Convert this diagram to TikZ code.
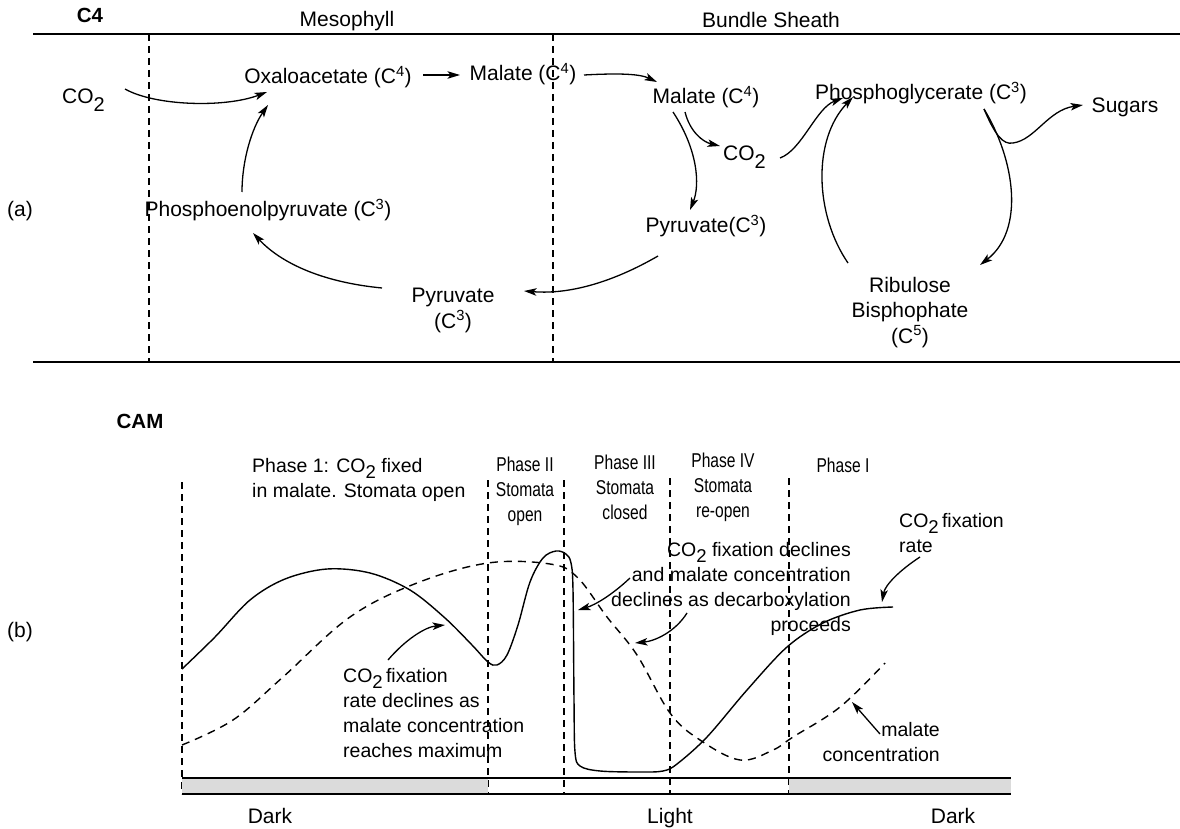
\documentclass[tikz,border=0pt]{standalone}
\usepackage{fontspec}
\setmainfont{Liberation Sans}
\newfontfamily\narrowfont[FakeStretch=0.78]{Liberation Sans}
\usetikzlibrary{arrows.meta}
\newcommand\lowtwo{\raisebox{-0.34em}{\scalebox{0.95}{2}}}
\begin{document}
\begin{tikzpicture}[x=1pt,y=-1pt,
  txa/.style={inner sep=0pt, anchor=base, font=\fontsize{21}{25.5}\selectfont},
  txb/.style={inner sep=0pt, anchor=base, font=\fontsize{19.5}{25}\selectfont},
  txn/.style={inner sep=0pt, anchor=base, align=center, font=\narrowfont\fontsize{20}{25}\selectfont},
  ttl/.style={inner sep=0pt, anchor=base, font=\bfseries\fontsize{20.5}{24}\selectfont},
  arr/.style={-{Stealth[length=12.5pt,width=7.5pt,inset=3pt]}, line width=1.3pt},
  frame/.style={line width=1.4pt},
  vdash/.style={line width=1.3pt, dash pattern=on 7pt off 5pt},
  curve/.style={line width=1.4pt},
  dcurve/.style={line width=1.4pt, dash pattern=on 8pt off 6pt}]
\useasboundingbox (0,0) rectangle (1180,829);
\fill[white] (0,0) rectangle (1180,829);

% ---------------- (a) C4 ----------------
\node[ttl] (c4) at (90,23) {C4};
\node[txa] (meso) at (347,27) {Mesophyll};
\node[txa] (bund) at (771,28) {Bundle Sheath};
\node[txa] (alab) at (20,217) {(a)};

\coordinate (tl) at (33,34); \coordinate (tr) at (1180,34);
\coordinate (bl) at (33,362); \coordinate (br) at (1180,362);
\draw[frame] (tl) -- (tr);
\draw[frame] (bl) -- (br);
\coordinate (d1t) at (149,34); \coordinate (d1b) at (149,362);
\coordinate (d2t) at (553,34); \coordinate (d2b) at (553,362);
\draw[vdash] (d1t) -- (d1b);
\draw[vdash] (d2t) -- (d2b);

\node[txa, anchor=base west] (co2a) at (62,104) {CO\lowtwo};
\node[txa] (oxa) at (328,84) {Oxaloacetate (C\textsuperscript{4})};
\node[txa] (malm) at (523,81) {Malate (C\textsuperscript{4})};
\node[txa] (malb) at (706,104) {Malate (C\textsuperscript{4})};
\node[txa, anchor=base west] (co2b) at (723,161) {CO\lowtwo};
\node[txa] (pyrb) at (706,233) {Pyruvate(C\textsuperscript{3})};
\node[txa, align=center] (pyrm) at (453,328) {Pyruvate\\(C\textsuperscript{3})};
\node[txa] (pep) at (268,217) {Phosphoenolpyruvate (C\textsuperscript{3})};
\node[txa] (pg) at (921,100) {Phosphoglycerate (C\textsuperscript{3})};
\node[txa] (sug) at (1125,113) {Sugars};
\node[txa, align=center] (rub) at (910,343) {Ribulose\\Bisphophate\\(C\textsuperscript{5})};

% arrow end points
\coordinate (e1s) at (125,89);   \coordinate (e1e) at (267,92);
\coordinate (e2s) at (423,75);   \coordinate (e2e) at (460,75);
\coordinate (e3s) at (584,75);   \coordinate (e3e) at (657,82);
\coordinate (e4s) at (685,112);  \coordinate (e4e) at (720,146);
\coordinate (e5s) at (673,112);  \coordinate (e5e) at (690,210);
\coordinate (e6s) at (658,256);  \coordinate (e6e) at (524,291);
\coordinate (e7s) at (382,288);  \coordinate (e7e) at (253,233);
\coordinate (e8s) at (242,192);  \coordinate (e8e) at (268,105);
\coordinate (e9s) at (780,158);  \coordinate (e9e) at (843,98);
\coordinate (e10s) at (848,263); \coordinate (e10e) at (853,97);
\coordinate (e11s) at (984,109); \coordinate (e11m) at (1013,143); \coordinate (e11e) at (1083,105);
\coordinate (e12e) at (980,265);

\draw[arr] (e1s) .. controls (155,106) and (225,108) .. (e1e);
\draw[arr] (e2s) -- (e2e);
\draw[arr] (e3s) .. controls (620,73) and (640,74) .. (e3e);
\draw[arr] (e4s) .. controls (690,132) and (703,142) .. (e4e);
\draw[arr] (e5s) .. controls (698,150) and (700,185) .. (e5e);
\draw[arr] (e6s) .. controls (620,278) and (575,295) .. (e6e);
\draw[arr] (e7s) .. controls (320,282) and (280,262) .. (e7e);
\draw[arr] (e8s) .. controls (242,160) and (252,128) .. (e8e);
\draw[arr] (e9s) .. controls (802,150) and (816,108) .. (e9e);
\draw[arr] (e10s) .. controls (815,215) and (812,140) .. (e10e);
\draw[arr] (e11s) .. controls (995,135) and (1003,145) .. (e11m) .. controls (1035,140) and (1048,110) .. (e11e);
\draw[arr] (e11s) .. controls (1015,160) and (1025,230) .. (e12e);

% ---------------- (b) CAM ----------------
\node[ttl] (cam) at (140,428) {CAM};
\node[txa] (blab) at (20,637) {(b)};

\node[txb, anchor=base west, align=left] (ph1) at (252,497) {Phase 1: CO\lowtwo\ fixed\\in malate. Stomata open};
\node[txn] (ph2) at (525,521) {Phase II\\Stomata\\open};
\node[txn] (ph3) at (625,519) {Phase III\\Stomata\\closed};
\node[txn] (ph4) at (723,517) {Phase IV\\Stomata\\re-open};
\node[txn] (ph5) at (843,472) {Phase I};

% phase dividers
\foreach \n/\x/\t in {p1/182/482, p2/488/480, p3/564/480, p4/670/478, p5/789/478}{
  \coordinate (\n t) at (\x,\t); \coordinate (\n b) at (\x,794);
  \draw[vdash] (\n t) -- (\n b);
}

% light/dark bar
\fill[black!14] (182,778) rectangle (488,794);
\fill[black!14] (789,778) rectangle (1011,794);
\coordinate (bar1) at (182,778); \coordinate (bar2) at (1011,778);
\coordinate (bar3) at (182,794); \coordinate (bar4) at (1011,794);
\draw[line width=1.8pt] (bar1) -- (bar2);
\draw[line width=1.4pt] (bar3) -- (bar4);

\node[txa] (dk1) at (270,823) {Dark};
\node[txa] (lt) at (670,823) {Light};
\node[txa] (dk2) at (953,823) {Dark};

% CO2 fixation rate (solid)
\draw[curve] plot[smooth, tension=0.55] coordinates {
 (182,669) (215,637) (250,600) (285,579) (327,569) (370,573) (410,590) (445,618)
 (472,645) (488,662) (497,665) (507,655) (518,625) (530,582) (543,558) (556,551)
 (566,554) (571,563) (573,590) (574,700) (575,752) (580,766) (600,771) (640,772)
 (663,771) (677,764) (707,737) (747,690) (787,647) (823,623) (860,610) (893,607)};

% malate concentration (dashed)
\draw[dcurve] plot[smooth, tension=0.6] coordinates {
 (182,745) (233,720) (283,677) (350,617) (417,583) (488,563) (550,564) (577,577)
 (607,617) (637,655) (670,713) (700,740) (740,760) (773,750) (793,737) (840,707) (885,663)};

% annotations
\node[txb, anchor=base west, align=left] (ann1) at (343,757)
  {CO\lowtwo\,fixation\\rate declines as\\malate concentration\\reaches maximum};
\node[txb, anchor=base east, align=right] (ann2) at (851,631)
  {CO\lowtwo\ fixation declines\\and malate concentration\\declines as decarboxylation\\proceeds};
\node[txb, anchor=base west, align=left] (ann3) at (899,552) {CO\lowtwo\,fixation\\rate};
\node[txb, anchor=base east, align=right] (ann4) at (940,761) {malate\\concentration};

\coordinate (a1s) at (388,660); \coordinate (a1e) at (445,625);
\coordinate (a2s) at (630,578); \coordinate (a2e) at (578,610);
\coordinate (a3s) at (687,613); \coordinate (a3e) at (635,643);
\coordinate (a4s) at (920,557); \coordinate (a4e) at (882,602);
\coordinate (a5s) at (880,734); \coordinate (a5e) at (852,702);

\draw[arr] (a1s) .. controls (405,640) and (425,627) .. (a1e);
\draw[arr] (a2s) .. controls (612,595) and (595,605) .. (a2e);
\draw[arr] (a3s) .. controls (675,632) and (655,641) .. (a3e);
\draw[arr] (a4s) .. controls (900,570) and (885,585) .. (a4e);
\draw[arr] (a5s) -- (a5e);
\end{tikzpicture}
\end{document}
